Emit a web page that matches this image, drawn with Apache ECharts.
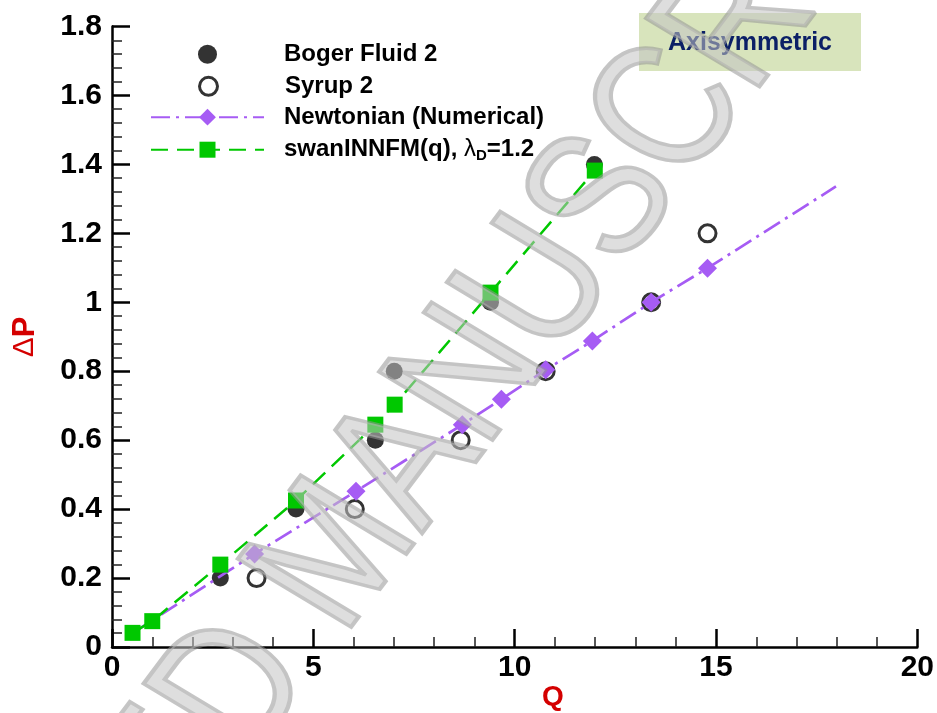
<!DOCTYPE html>
<html>
<head>
<meta charset="utf-8">
<script src="https://cdn.jsdelivr.net/npm/echarts@6/dist/echarts.min.js"></script>
<style>
html,body{margin:0;padding:0;background:#fff;}
#chart{width:937px;height:713px;}
</style>
</head>
<body>
<div id="chart"></div>
<script>
// ---- data ----
const xRange = [0, 20];
const yRange = [0, 1.8];
const xTickStep = 5;
const yTickStep = 0.2;

const bogerQ  = [2.69, 4.57, 6.54, 7.01, 9.40, 11.98];
const bogerDP = [0.20, 0.40, 0.60, 0.80, 1.00, 1.40];

const syrupQ  = [3.59, 6.03, 8.66, 10.77, 13.39, 14.79];
const syrupDP = [0.20, 0.40, 0.60, 0.80, 1.00, 1.20];

const newtQ      = [0.51, 3.54, 6.06, 8.70, 9.67, 10.77, 11.93, 13.39, 14.79, 17.98];
const newtDP     = [0.040, 0.270, 0.452, 0.645, 0.719, 0.804, 0.888, 1.000, 1.099, 1.336];
const newtMarker = [false, true, true, true, true, true, true, true, true, false];

const swanQ  = [0.51, 1.00, 2.69, 4.57, 6.54, 7.02, 9.40, 11.99];
const swanDP = [0.041, 0.075, 0.239, 0.425, 0.645, 0.703, 1.028, 1.382];

const seriesNames = ['Boger Fluid 2', 'Syrup 2', 'Newtonian (Numerical)', 'swanINNFM(q), λD=1.2'];
const xName = 'Q';
const yName = 'ΔP';
const boxText = 'Axisymmetric';
const watermarkA = 'ACCEPTED';
const watermarkB = 'MANUSCRIPT';

// ---- chart ----
const FONT = 'Liberation Sans, Arial, sans-serif';
const chart = echarts.init(document.getElementById('chart'), null, {renderer: 'canvas'});

const pair = (xs, ys) => xs.map((x, i) => [x, ys[i]]);
const newtData = newtQ.map((x, i) => ({
  value: [x, newtDP[i]],
  symbol: newtMarker[i] ? 'diamond' : 'none'
}));

const purple = '#a65cf4';
const green = '#00c800';

function legendAt(name, left, top, itemHeight, extra) {
  return Object.assign({
    data: [name],
    left: left,
    top: top,
    orient: 'vertical',
    padding: 0,
    itemWidth: 113,
    itemHeight: itemHeight,
    selectedMode: false,
    textStyle: {
      fontFamily: FONT, fontSize: 24, fontWeight: 'bold', color: '#000',
      padding: [0, 0, 0, 15]
    }
  }, extra || {});
}

// watermark geometry (image is slightly stretched horizontally)
const wmStretch = 1.12;
const wmAngle = 56 * Math.PI / 180;
const wmFont = 177;
const wmScaleX = 0.85;
const wmStyle = {
  font: 'normal ' + wmFont + 'px ' + FONT,
  fill: 'rgba(195,195,195,0.55)',
  stroke: 'rgba(150,150,150,0.55)',
  lineWidth: 4,
  lineJoin: 'round',
  textVerticalAlign: 'middle'
};
const wmX = 266, wmY = 610;  // start of "MANUSCRIPT" (unstretched coords)
const spaceAdv = 0.278 * wmFont * wmScaleX;

const option = {
  backgroundColor: '#fff',
  animation: false,
  grid: {left: 112, right: 19, top: 26.5, bottom: 66, containLabel: false},
  xAxis: {
    type: 'value', min: xRange[0], max: xRange[1], interval: xTickStep,
    axisLine: {show: true, onZero: false, lineStyle: {color: '#000', width: 2.5}},
    axisTick: {show: true, inside: true, length: 18, lineStyle: {color: '#000', width: 2.5}},
    minorTick: {show: true, splitNumber: 5, length: 10, lineStyle: {color: '#222', width: 1.5}},
    splitLine: {show: false},
    axisLabel: {fontFamily: FONT, fontSize: 30, fontWeight: 'bold', color: '#000', margin: 6}
  },
  yAxis: {
    type: 'value', min: yRange[0], max: yRange[1], interval: yTickStep,
    axisLine: {show: true, onZero: false, lineStyle: {color: '#000', width: 2.5}},
    axisTick: {show: true, inside: true, length: 18, lineStyle: {color: '#000', width: 2.5}},
    minorTick: {show: true, splitNumber: 5, length: 10, lineStyle: {color: '#222', width: 1.5}},
    splitLine: {show: false},
    axisLabel: {fontFamily: FONT, fontSize: 30, fontWeight: 'bold', color: '#000', margin: 10,
      formatter: v => String(Math.round(v * 10) / 10)}
  },
  legend: [
    legendAt(seriesNames[0], 198, 51.7 - 9.5, 19),
    legendAt(seriesNames[1], 198, 83.3 - 9, 18,
      {itemStyle: {color: '#fff', borderWidth: 3, borderColor: '#000'}}),
    legendAt(seriesNames[2], 150, 115.7 - 10.5, 21),
    legendAt(seriesNames[3], 150, 147.7 - 10, 20, {
      formatter: () => '{a|swanINNFM(q), }{l|λ}{s|D}{a|=1.2}',
      textStyle: {
        fontFamily: FONT, fontSize: 24, fontWeight: 'bold', color: '#000',
        padding: [0, 0, 0, 15],
        rich: {
          a: {fontFamily: FONT, fontSize: 24, fontWeight: 'bold', color: '#000'},
          l: {fontFamily: FONT, fontSize: 24, fontWeight: 'normal', color: '#000'},
          s: {fontFamily: FONT, fontSize: 15, fontWeight: 'bold', color: '#000', padding: [12, 0, 0, 0]}
        }
      }
    })
  ],
  series: [
    {
      name: seriesNames[0], type: 'scatter', symbol: 'circle', symbolSize: 17,
      itemStyle: {color: '#000'},
      data: pair(bogerQ, bogerDP), z: 2
    },
    {
      name: seriesNames[1], type: 'scatter', symbol: 'circle', symbolSize: 17,
      itemStyle: {color: '#fff', borderColor: '#000', borderWidth: 3},
      data: pair(syrupQ, syrupDP), z: 3
    },
    {
      name: seriesNames[2], type: 'line', symbol: 'diamond', symbolSize: 19,
      showAllSymbol: true,
      itemStyle: {color: purple},
      lineStyle: {color: purple, width: 2.7, type: [19, 6, 3, 6]},
      data: newtData, z: 4
    },
    {
      name: seriesNames[3], type: 'line', symbol: 'rect', symbolSize: 16,
      showAllSymbol: true,
      itemStyle: {color: green},
      lineStyle: {color: green, width: 2.5, type: [17, 9]},
      data: pair(swanQ, swanDP), z: 5
    }
  ],
  graphic: [
    {type: 'rect', shape: {x: 639, y: 13, width: 222, height: 58}, style: {fill: '#d8e4bc'}, z: 1},
    {type: 'text', x: 750, y: 43, z: 2,
      style: {text: boxText, font: 'bold 25px ' + FONT, fill: '#0b1f66', textAlign: 'center', textVerticalAlign: 'middle'}},
    {type: 'text', x: 553, y: 697, z: 2,
      style: {text: xName, font: 'bold 28px ' + FONT, fill: '#d40000', textAlign: 'center', textVerticalAlign: 'middle'}},
    {type: 'text', x: 25, y: 337, rotation: Math.PI / 2, z: 2,
      style: {
        text: '{d|' + yName.charAt(0) + '}{p|' + yName.slice(1) + '}',
        textAlign: 'center', textVerticalAlign: 'middle',
        rich: {
          d: {fontFamily: FONT, fontSize: 30, fontWeight: 'normal', fill: '#d40000', color: '#d40000'},
          p: {fontFamily: FONT, fontSize: 31, fontWeight: 'bold', fill: '#d40000', color: '#d40000'}
        }
      }},
    // watermark
    {type: 'group', x: 0, y: 0, scaleX: wmStretch, z: 100, silent: true,
      children: [
        {type: 'text', x: wmX - spaceAdv * Math.cos(wmAngle), y: wmY + spaceAdv * Math.sin(wmAngle),
          rotation: wmAngle, scaleX: wmScaleX, z: 100, silent: true,
          style: Object.assign({text: watermarkA, textAlign: 'right'}, wmStyle)},
        {type: 'text', x: wmX, y: wmY,
          rotation: wmAngle, scaleX: wmScaleX, z: 100, silent: true,
          style: Object.assign({text: watermarkB, textAlign: 'left'}, wmStyle)}
      ]}
  ]
};
chart.setOption(option);
</script>
</body>
</html>
